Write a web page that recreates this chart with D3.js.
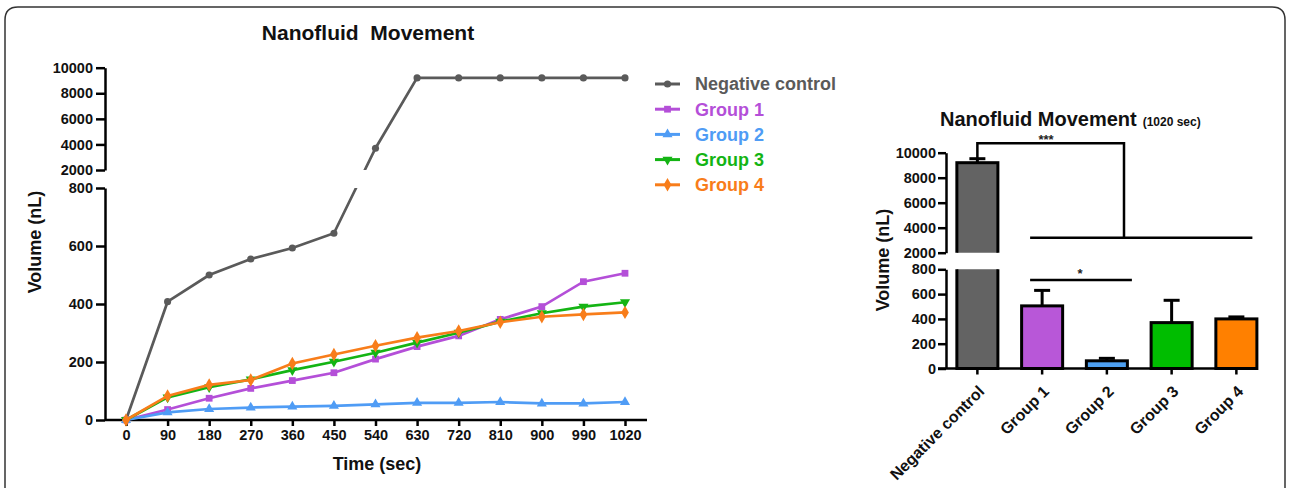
<!DOCTYPE html>
<html>
<head>
<meta charset="utf-8">
<script src="https://cdn.jsdelivr.net/npm/d3@7"></script>
<style>
  body { margin: 0; background: #fff; }
  svg { font-family: Arial, "Liberation Sans", sans-serif; }
  .pre { white-space: pre; }
</style>
</head>
<body>
<svg id="fig" width="1290" height="488"></svg>
<script>
// time points (sec) shown as evenly spaced categories
const times = ['0', '90', '180', '270', '360', '450', '540', '630', '720', '810', '900', '990', '1020'];

const negativeControl = [0, 408, 500, 555, 593, 644, 3700, 9200, 9200, 9200, 9200, 9200, 9200];
const group1 = [0, 36, 75, 109, 136, 163, 210, 253, 290, 347, 391, 477, 506];
const group2 = [0, 26, 38, 43, 46, 49, 54, 59, 59, 62, 57, 57, 62];
const group3 = [0, 78, 113, 140, 172, 201, 232, 267, 301, 339, 368, 391, 406];
const group4 = [0, 83, 121, 138, 195, 226, 256, 284, 307, 337, 356, 364, 371];

const seriesNames = ['Negative control', 'Group 1', 'Group 2', 'Group 3', 'Group 4'];
const seriesColors = ['#5a5a5a', '#b44fd8', '#4f9cf5', '#14b414', '#f87d1a'];

// bar chart at 1020 sec
const barNames = ['Negative control', 'Group 1', 'Group 2', 'Group 3', 'Group 4'];
const barMeans = [9200, 505, 62, 370, 400];
const barErrors = [320, 125, 20, 180, 16];
const barFills = ['#636363', '#b857d8', '#4d9ff0', '#00bd00', '#ff8000'];

const lowerTicks = [0, 200, 400, 600, 800];
const upperTicks = [2000, 4000, 6000, 8000, 10000];

const svg = d3.select('#fig');

// panel border
svg.append('path')
  .attr('d', 'M5,488 V20 Q5,7 18,7 H1272 Q1285,7 1285,20 V488')
  .attr('fill', 'none')
  .attr('stroke', '#333')
  .attr('stroke-width', 1.5);

// ---------- left: line chart ----------
const x = d3.scalePoint().domain(times).range([126, 625]);
const yLow = d3.scaleLinear().domain([0, 800]).range([420, 188]);
const yHigh = d3.scaleLinear().domain([2000, 10000]).range([170, 67.7]);
const yBroken = v => v <= 800 ? yLow(v) : yHigh(v);

const defs = svg.append('defs');
const clipL = defs.append('clipPath').attr('id', 'clip-left');
clipL.append('rect').attr('x', 0).attr('y', 0).attr('width', 700).attr('height', yHigh(2000));
clipL.append('rect').attr('x', 0).attr('y', yLow(800)).attr('width', 700).attr('height', 300);

const axisStyle = g => {
  g.attr('font-family', null);
  g.selectAll('.domain, .tick line').attr('stroke', '#000').attr('stroke-width', 2.5);
  g.selectAll('.tick text').attr('font-size', 14.5).attr('font-weight', 'bold').attr('fill', '#111');
};
const fmt = d3.format('d');

svg.append('g')
  .attr('transform', 'translate(105,0)')
  .call(d3.axisLeft(yHigh).tickValues(upperTicks).tickFormat(fmt).tickSize(9).tickSizeOuter(0).tickPadding(3))
  .call(axisStyle);
svg.append('g')
  .attr('transform', 'translate(105,0)')
  .call(d3.axisLeft(yLow).tickValues(lowerTicks).tickFormat(fmt).tickSize(9).tickSizeOuter(0).tickPadding(3))
  .call(axisStyle);

const xAxis = svg.append('g')
  .attr('transform', 'translate(0,420)')
  .call(d3.axisBottom(x).tickSize(6).tickSizeOuter(0).tickPadding(4))
  .call(axisStyle);
xAxis.select('.domain').remove();
svg.append('line')
  .attr('x1', 105).attr('x2', 647).attr('y1', 420).attr('y2', 420)
  .attr('stroke', '#000').attr('stroke-width', 2.5);

const seriesData = [negativeControl, group1, group2, group3, group4];
const symbols = [d3.symbolCircle, d3.symbolSquare, d3.symbolTriangle, d3.symbolTriangle, d3.symbolDiamond];
const symbolSizes = [40, 46, 44, 44, 52];
const symbolRot = [0, 0, 0, 180, 0];

const line = d3.line().x((d, i) => x(times[i])).y(d => yBroken(d));

seriesData.forEach((values, s) => {
  svg.append('path')
    .datum(values)
    .attr('clip-path', 'url(#clip-left)')
    .attr('fill', 'none')
    .attr('stroke', seriesColors[s])
    .attr('stroke-width', 2.7)
    .attr('d', line);
  svg.append('g')
    .selectAll('path')
    .data(values)
    .enter()
    .append('path')
    .attr('transform', (d, i) => `translate(${x(times[i])},${yBroken(d)}) rotate(${symbolRot[s]})`)
    .attr('d', d3.symbol().type(symbols[s]).size(symbolSizes[s]))
    .attr('fill', seriesColors[s]);
});

svg.append('text')
  .attr('class', 'pre')
  .attr('x', 368).attr('y', 40)
  .attr('text-anchor', 'middle')
  .attr('font-size', 21).attr('font-weight', 'bold').attr('fill', '#111')
  .text('Nanofluid  Movement');

svg.append('text')
  .attr('transform', 'translate(41,242) rotate(-90)')
  .attr('text-anchor', 'middle')
  .attr('font-size', 18).attr('font-weight', 'bold').attr('fill', '#111')
  .text('Volume (nL)');

svg.append('text')
  .attr('x', 377).attr('y', 470)
  .attr('text-anchor', 'middle')
  .attr('font-size', 18).attr('font-weight', 'bold').attr('fill', '#111')
  .text('Time (sec)');

// legend
const legend = svg.append('g')
  .selectAll('g')
  .data(seriesNames)
  .enter()
  .append('g')
  .attr('transform', (d, i) => `translate(655,${84 + i * 25.2})`);
legend.append('line')
  .attr('x1', 0).attr('x2', 25)
  .attr('stroke', (d, i) => seriesColors[i])
  .attr('stroke-width', 3);
legend.append('path')
  .attr('transform', (d, i) => `translate(12.5,0) rotate(${symbolRot[i]})`)
  .attr('d', (d, i) => d3.symbol().type(symbols[i]).size(symbolSizes[i])())
  .attr('fill', (d, i) => seriesColors[i]);
legend.append('text')
  .attr('x', 40).attr('dy', '0.35em')
  .attr('font-size', 18).attr('font-weight', 'bold')
  .attr('fill', (d, i) => seriesColors[i])
  .text(d => d);

// ---------- right: bar chart ----------
const xb = d3.scaleBand().domain(barNames).range([945, 1268.75]).paddingInner(0.32).paddingOuter(0.16);
const ybLow = d3.scaleLinear().domain([0, 800]).range([368.5, 269.3]);
const ybHigh = d3.scaleLinear().domain([2000, 10000]).range([252.7, 152.7]);
const ybBroken = v => v <= 800 ? ybLow(v) : ybHigh(v);

const clipR = defs.append('clipPath').attr('id', 'clip-right');
clipR.append('rect').attr('x', 900).attr('y', 0).attr('width', 390).attr('height', ybHigh(2000));
clipR.append('rect').attr('x', 900).attr('y', ybLow(800)).attr('width', 390).attr('height', 200);

svg.append('g')
  .attr('clip-path', 'url(#clip-right)')
  .selectAll('rect')
  .data(barMeans)
  .enter()
  .append('rect')
  .attr('x', (d, i) => xb(barNames[i]) + 1.5)
  .attr('width', xb.bandwidth() - 3)
  .attr('y', d => ybBroken(d))
  .attr('height', d => ybLow(0) - ybBroken(d))
  .attr('fill', (d, i) => barFills[i])
  .attr('stroke', '#000')
  .attr('stroke-width', 3);

// error bars (upper only)
const errG = svg.append('g').attr('stroke', '#000').attr('stroke-width', 3);
barMeans.forEach((m, i) => {
  const cx = xb(barNames[i]) + xb.bandwidth() / 2;
  errG.append('line')
    .attr('x1', cx).attr('x2', cx)
    .attr('y1', ybBroken(m)).attr('y2', ybBroken(m + barErrors[i]));
  errG.append('line')
    .attr('x1', cx - 8).attr('x2', cx + 8)
    .attr('y1', ybBroken(m + barErrors[i])).attr('y2', ybBroken(m + barErrors[i]));
});

svg.append('g')
  .attr('transform', 'translate(946,0)')
  .call(d3.axisLeft(ybHigh).tickValues(upperTicks).tickFormat(fmt).tickSize(8).tickSizeOuter(0).tickPadding(2))
  .call(axisStyle);
svg.append('g')
  .attr('transform', 'translate(946,0)')
  .call(d3.axisLeft(ybLow).tickValues(lowerTicks).tickFormat(fmt).tickSize(8).tickSizeOuter(0).tickPadding(2))
  .call(axisStyle);

const xbAxis = svg.append('g')
  .attr('transform', 'translate(0,368.5)')
  .call(d3.axisBottom(xb).tickSize(6).tickSizeOuter(0))
  .call(axisStyle);
xbAxis.select('.domain').remove();
xbAxis.selectAll('.tick text')
  .attr('text-anchor', 'end')
  .attr('font-size', 16)
  .attr('y', 0).attr('dy', '0.35em')
  .attr('transform', 'translate(4,20) rotate(-45)');
svg.append('line')
  .attr('x1', 938).attr('x2', 1257).attr('y1', 368.5).attr('y2', 368.5)
  .attr('stroke', '#000').attr('stroke-width', 2.5);

// significance brackets
const c0 = xb(barNames[0]) + xb.bandwidth() / 2;
const sig = svg.append('g').attr('fill', 'none').attr('stroke', '#000').attr('stroke-width', 2.5);
sig.append('path')
  .attr('d', `M${c0},${ybBroken(barMeans[0] + barErrors[0])} V${ybHigh(10750)} H1124 V${ybHigh(3200)}`);
sig.append('line')
  .attr('x1', xb(barNames[1]) + 10).attr('x2', xb(barNames[4]) + xb.bandwidth() - 6)
  .attr('y1', ybHigh(3200)).attr('y2', ybHigh(3200));
sig.append('line')
  .attr('x1', xb(barNames[1]) + 10).attr('x2', xb(barNames[2]) + xb.bandwidth() + 3)
  .attr('y1', ybLow(714)).attr('y2', ybLow(714));

svg.append('text')
  .attr('x', 1046).attr('y', ybHigh(10750) + 1)
  .attr('text-anchor', 'middle')
  .attr('font-size', 13).attr('font-weight', 'bold').attr('fill', '#222')
  .text('***');
svg.append('text')
  .attr('x', 1080).attr('y', ybLow(714) - 2)
  .attr('text-anchor', 'middle')
  .attr('font-size', 13).attr('font-weight', 'bold').attr('fill', '#222')
  .text('*');

const bt = svg.append('text')
  .attr('x', 940).attr('y', 126)
  .attr('font-size', 20).attr('font-weight', 'bold').attr('fill', '#111')
  .text('Nanofluid Movement');
bt.append('tspan')
  .attr('dx', 6)
  .attr('font-size', 12)
  .text('(1020 sec)');

svg.append('text')
  .attr('transform', 'translate(889,260) rotate(-90)')
  .attr('text-anchor', 'middle')
  .attr('font-size', 18).attr('font-weight', 'bold').attr('fill', '#111')
  .text('Volume (nL)');
</script>
</body>
</html>
